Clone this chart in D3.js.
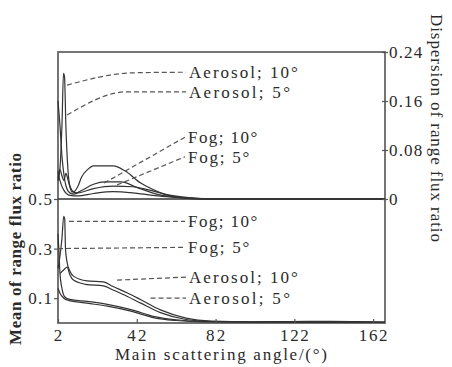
<!DOCTYPE html>
<html>
<head>
<meta charset="utf-8">
<script src="https://cdn.jsdelivr.net/npm/d3@7"></script>
<style>
  html, body { margin: 0; padding: 0; width: 100%; height: 100%; background: #fff; overflow: hidden; }
  svg { display: block; }
  text { font-family: "Liberation Serif", "Times New Roman", serif; fill: #2a2a2a; font-size: 17px; }
</style>
</head>
<body>
<script>
// x axis: main scattering angle (deg)
const angleTicks = [2, 42, 82, 122, 162];
const meanTicks = [0.1, 0.3, 0.5];
const dispTicks = [0, 0.08, 0.16, 0.24];

// upper panel: dispersion of range flux ratio  [angle, value]
const dispAerosol10 = [[2,0.03],[3,0.05],[4,0.12],[4.8,0.205],[5.3,0.2],[6,0.12],[7,0.05],[8,0.022],[10,0.012],[12,0.02],[14,0.036],[17,0.048],[20,0.054],[30,0.054],[36,0.046],[44,0.026],[50,0.016],[56,0.008],[62,0.003],[70,0.001],[80,0],[168,0]];
const dispAerosol5 = [[2,0.16],[3,0.12],[4,0.07],[5,0.04],[6,0.022],[8,0.01],[10,0.008],[14,0.014],[20,0.024],[26,0.028],[34,0.028],[42,0.019],[52,0.008],[62,0.003],[74,0],[168,0]];
const dispFog10 = [[2,0.035],[3,0.048],[4,0.038],[5,0.03],[6,0.042],[7,0.032],[9,0.012],[12,0.01],[20,0.017],[30,0.021],[40,0.02],[48,0.015],[56,0.008],[66,0.003],[78,0],[168,0]];
const dispFog5 = [[2,0.045],[3,0.03],[5,0.014],[8,0.006],[12,0.005],[20,0.009],[30,0.012],[40,0.01],[50,0.006],[60,0.003],[72,0.001],[90,0],[168,0]];

// lower panel: mean of range flux ratio  [angle, value]
const meanFog10 = [[2,0.22],[3,0.27],[4,0.34],[4.9,0.43],[5.4,0.42],[5.8,0.3],[6.6,0.245],[8,0.21],[10,0.188],[16.7,0.17],[25,0.166],[30,0.147],[37,0.122],[44,0.094],[54,0.053],[67,0.02],[80,0.008],[100,0.005],[120,0.006],[140,0.007],[168,0.004]];
const meanAerosol10 = [[3,0.2],[5,0.215],[6.6,0.225],[8,0.195],[10,0.172],[16.7,0.155],[25,0.15],[30,0.133],[37,0.108],[44,0.08],[54,0.042],[67,0.014],[80,0.006],[100,0.004],[130,0.005],[168,0.003]];
const meanFog5 = [[2,0.36],[2.4,0.3],[3,0.2],[4,0.14],[5.5,0.105],[8,0.095],[16.7,0.087],[27,0.075],[39,0.054],[51,0.026],[62,0.013],[76,0.006],[100,0.004],[130,0.006],[150,0.005],[168,0.003]];
const meanAerosol5 = [[2,0.14],[3,0.12],[5,0.1],[7,0.092],[16.7,0.08],[27,0.068],[39,0.048],[51,0.021],[62,0.01],[76,0.004],[100,0.003],[168,0.002]];

// leader lines: label, panel, points [angle, value] (last point is the label end)
const leaders = [
  { text: "Aerosol; 10°", panel: "disp", pts: [[6.6,0.186],[40,0.206],[67,0.207]] },
  { text: "Aerosol; 5°",  panel: "disp", pts: [[6.6,0.137],[37,0.175],[67,0.175]] },
  { text: "Fog; 10°",     panel: "disp", pts: [[25.4,0.026],[66.5,0.101]] },
  { text: "Fog; 5°",      panel: "disp", pts: [[32,0.023],[66.5,0.069]] },
  { text: "Fog; 10°",     panel: "mean", pts: [[7.6,0.41],[66.5,0.41]] },
  { text: "Fog; 5°",      panel: "mean", pts: [[2,0.30],[66.5,0.305]] },
  { text: "Aerosol; 10°", panel: "mean", pts: [[32,0.173],[67,0.185]] },
  { text: "Aerosol; 5°",  panel: "mean", pts: [[49,0.10],[67,0.10]] }
];

const width = 452, height = 367;
const margin = { top: 52, right: 67, bottom: 44, left: 58 };
const innerWidth = width - margin.left - margin.right;
const innerHeight = height - margin.top - margin.bottom;
const splitY = 147;

// the reference's serif text is set wide; stretch it to the measured width
const labelWidth = t => t.length * 7.9 + 14 - (t.startsWith("Fog") ? 8 : 0);
const tickWidth = t => t.replace(".", "").length * 9.6 + (t.includes(".") ? 4.5 : 0);

const svg = d3.select("body").append("svg")
  .attr("viewBox", `0 0 ${width} ${height}`)
  .attr("width", "100%")
  .attr("height", "100%");

const g = svg.append("g")
  .attr("transform", `translate(${margin.left},${margin.top})`);

const x = d3.scaleLinear().domain([2, 168]).range([margin.left, margin.left + innerWidth]);
const yMean = d3.scaleLinear().domain([0, 0.5]).range([margin.top + innerHeight, margin.top + splitY]);
const yDisp = d3.scaleLinear().domain([0, 0.24]).range([margin.top + splitY, margin.top]);

// curves
const lineOf = y => d3.line()
  .x(d => x(d[0]))
  .y(d => y(d[1]))
  .curve(d3.curveMonotoneX);

const curves = svg.append("g")
  .attr("fill", "none")
  .attr("stroke", "#333")
  .attr("stroke-width", 1.2);

[dispAerosol10, dispAerosol5, dispFog10, dispFog5].forEach(s =>
  curves.append("path").attr("d", lineOf(yDisp)(s)));
[meanFog10, meanAerosol10, meanFog5, meanAerosol5].forEach(s =>
  curves.append("path").attr("d", lineOf(yMean)(s)));

// frame and separator
g.append("rect")
  .attr("width", innerWidth)
  .attr("height", innerHeight)
  .attr("fill", "none")
  .attr("stroke", "#666")
  .attr("stroke-width", 1.8);

g.append("line")
  .attr("x1", 0).attr("x2", innerWidth)
  .attr("y1", splitY).attr("y2", splitY)
  .attr("stroke", "#333")
  .attr("stroke-width", 1.6);

// axes: tick marks from d3, labels placed through the same scales
const xAxis = svg.append("g")
  .attr("transform", `translate(0,${margin.top + innerHeight})`)
  .call(d3.axisBottom(x).tickValues(angleTicks).tickSize(-4).tickFormat(""));

const leftAxis = svg.append("g")
  .attr("transform", `translate(${margin.left},0)`)
  .call(d3.axisLeft(yMean).tickValues(meanTicks).tickSize(4).tickFormat(""));

const rightAxis = svg.append("g")
  .attr("transform", `translate(${margin.left + innerWidth},0)`)
  .call(d3.axisRight(yDisp).tickValues(dispTicks).tickSize(3).tickFormat(""));

[xAxis, leftAxis, rightAxis].forEach(a => {
  a.select(".domain").remove();
  a.selectAll(".tick text").remove();
  a.selectAll(".tick line").attr("stroke", "#555").attr("stroke-width", 1.2);
});
rightAxis.selectAll(".tick line").attr("x1", -3);

const tickLabel = (t, px, py, anchor) => svg.append("text")
  .attr("x", px)
  .attr("y", py)
  .attr("dy", "0.35em")
  .attr("text-anchor", anchor)
  .attr("textLength", tickWidth(t))
  .attr("lengthAdjust", "spacing")
  .text(t);

angleTicks.forEach(d => tickLabel(String(d), x(d), margin.top + innerHeight + 12, "middle"));
meanTicks.forEach(d => tickLabel(d3.format(".1f")(d), margin.left - 6, yMean(d), "end"));
dispTicks.forEach(d => tickLabel(d === 0 ? "0" : d3.format(".2f")(d),
  margin.left + innerWidth + 4, yDisp(d), "start"));

// leader lines and labels
leaders.forEach(l => {
  const y = l.panel === "disp" ? yDisp : yMean;
  svg.append("path")
    .attr("d", lineOf(y)(l.pts))
    .attr("fill", "none")
    .attr("stroke", "#555")
    .attr("stroke-width", 1.2)
    .attr("stroke-dasharray", "5,3");
  const end = l.pts[l.pts.length - 1];
  svg.append("text")
    .attr("x", x(end[0]) + 3)
    .attr("y", y(end[1]))
    .attr("dy", "0.35em")
    .attr("textLength", labelWidth(l.text))
    .attr("lengthAdjust", "spacing")
    .text(l.text);
});

// axis titles
svg.append("text")
  .attr("x", 221)
  .attr("y", 360)
  .attr("text-anchor", "middle")
  .attr("textLength", 212)
  .attr("lengthAdjust", "spacing")
  .text("Main scattering angle/(°)");

svg.append("text")
  .attr("x", 21)
  .attr("y", 249)
  .attr("font-weight", "bold")
  .attr("text-anchor", "middle")
  .attr("transform", "rotate(-90,21,249)")
  .attr("textLength", 192)
  .attr("lengthAdjust", "spacing")
  .text("Mean of range flux ratio");

svg.append("text")
  .attr("x", 431)
  .attr("y", 128)
  .attr("text-anchor", "middle")
  .attr("transform", "rotate(90,431,128)")
  .attr("textLength", 228)
  .attr("lengthAdjust", "spacing")
  .text("Dispersion of range flux ratio");
</script>
</body>
</html>
